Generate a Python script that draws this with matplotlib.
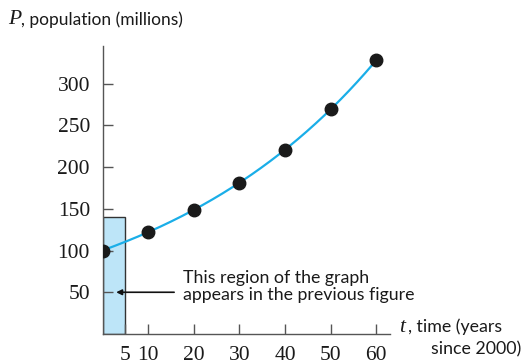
import numpy as np
import matplotlib
matplotlib.use("Agg")
import matplotlib.pyplot as plt
from matplotlib.patches import Rectangle

# data
t_years = [0, 10, 20, 30, 40, 50, 60]
population = [100, 122, 149, 181, 221, 269, 328]
x_ticks = [5, 10, 20, 30, 40, 50, 60]
y_ticks = [50, 100, 150, 200, 250, 300]
region_t = [0, 5]
region_p = [0, 140]

W, H = 524, 364
fig = plt.figure(figsize=(W/100, H/100), dpi=100)
ax = fig.add_axes([102.5/W, 30/H, (390-102.5)/W, (334-46)/H])
ax.set_xlim(0, 63)
ax.set_ylim(0, 345)

spine_col = "#555555"
for s in ["top", "right"]:
    ax.spines[s].set_visible(False)
for s in ["left", "bottom"]:
    ax.spines[s].set_color(spine_col)
    ax.spines[s].set_linewidth(1.0)

# highlighted region
ax.add_patch(Rectangle((region_t[0], region_p[0]), region_t[1]-region_t[0],
                       region_p[1]-region_p[0], facecolor="#bde5f8",
                       edgecolor="#333333", linewidth=1.0, zorder=1))

# smooth exponential curve fitted to the points
tt = np.array(t_years, float)
pp = np.array(population, float)
b, a = np.polyfit(tt, np.log(pp), 1)
tc = np.linspace(tt.min(), tt.max(), 300)
ax.plot(tc, np.exp(a + b*tc), color="#1aaee8", lw=1.6, zorder=2)
ax.plot(t_years, population, "o", color="#1a1a1a", ms=9, zorder=3)

serif = "Liberation Serif"
sans = "Lato"
txt = "#1a1a1a"

ax.set_xticks(x_ticks)
ax.set_yticks(y_ticks)
ax.set_xticklabels([str(v) for v in x_ticks], fontfamily=serif, fontsize=15.5, color=txt)
ax.set_yticklabels([str(v) for v in y_ticks], fontfamily=serif, fontsize=15.5, color=txt)
ax.tick_params(axis="x", direction="in", length=7, width=1, color=spine_col, pad=9)
ax.tick_params(axis="y", direction="in", length=7, width=1, color=spine_col, pad=9)

# annotation arrow
ax.annotate("", xy=(3, 50), xytext=(15.7, 50),
            arrowprops=dict(arrowstyle="-|>", color="#111111", lw=1.2,
                            mutation_scale=8, shrinkA=0, shrinkB=0))
ax.text(17.6, 57, "This region of the graph\nappears in the previous figure",
        fontfamily=sans, fontsize=12.8, va="center", ha="left",
        linespacing=1.05, color=txt)

# axis labels
fig.text(8/W, 1-20/H, "P", fontfamily=serif, fontstyle="italic", fontsize=15.5,
         va="center", ha="left", color=txt)
fig.text(21/W, 1-20/H, ", population (millions)", fontfamily=sans, fontsize=12.5,
         va="center", ha="left", color=txt)
fig.text(399/W, 1-327/H, "t", fontfamily=serif, fontstyle="italic", fontsize=15.5,
         va="center", ha="left", color=txt)
fig.text(408/W, 1-327/H, ", time (years", fontfamily=sans, fontsize=12.8,
         va="center", ha="left", color=txt)
fig.text(521/W, 1-349/H, "since 2000)", fontfamily=sans, fontsize=12.8,
         va="center", ha="right", color=txt)

fig.savefig("out.png", dpi=100)
